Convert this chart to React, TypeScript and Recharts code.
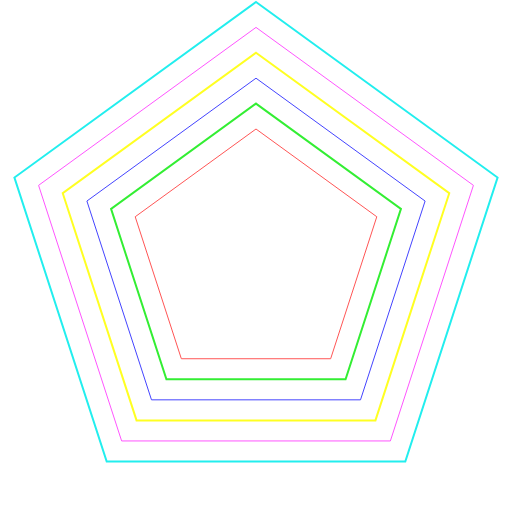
import { RadarChart, Radar, PolarAngleAxis, PolarRadiusAxis } from "recharts";

const axes = ["A", "B", "C", "D", "E"];
const cyanValues = [10, 10, 10, 10, 10];
const magentaValues = [9, 9, 9, 9, 9];
const yellowValues = [8, 8, 8, 8, 8];
const blueValues = [7, 7, 7, 7, 7];
const greenValues = [6, 6, 6, 6, 6];
const redValues = [5, 5, 5, 5, 5];

const data = axes.map((axis, i) => ({
  axis,
  cyan: cyanValues[i],
  magenta: magentaValues[i],
  yellow: yellowValues[i],
  blue: blueValues[i],
  green: greenValues[i],
  red: redValues[i],
}));

const series = [
  { key: "cyan", color: "#22eeee", width: 2 },
  { key: "magenta", color: "#ff55ff", width: 1 },
  { key: "yellow", color: "#ffff22", width: 2 },
  { key: "blue", color: "#4444ff", width: 1 },
  { key: "green", color: "#33ee33", width: 2 },
  { key: "red", color: "#ff5555", width: 1 },
];

export default function App() {
  return (
    <div style={{ position: "absolute", left: 0, top: 0, width: 512, height: 512, background: "#fff" }}>
      <RadarChart
        width={512}
        height={512}
        data={data}
        cx={256}
        cy={256}
        outerRadius={254}
        margin={{ top: 0, right: 0, bottom: 0, left: 0 }}
      >
        <PolarAngleAxis dataKey="axis" tick={false} axisLine={false} tickLine={false} />
        <PolarRadiusAxis domain={[0, 10]} tick={false} axisLine={false} tickLine={false} />
        {series.map((s) => (
          <Radar
            key={s.key}
            dataKey={s.key}
            stroke={s.color}
            strokeWidth={s.width}
            fill="none"
            fillOpacity={0}
            dot={false}
            isAnimationActive={false}
          />
        ))}
      </RadarChart>
    </div>
  );
}
